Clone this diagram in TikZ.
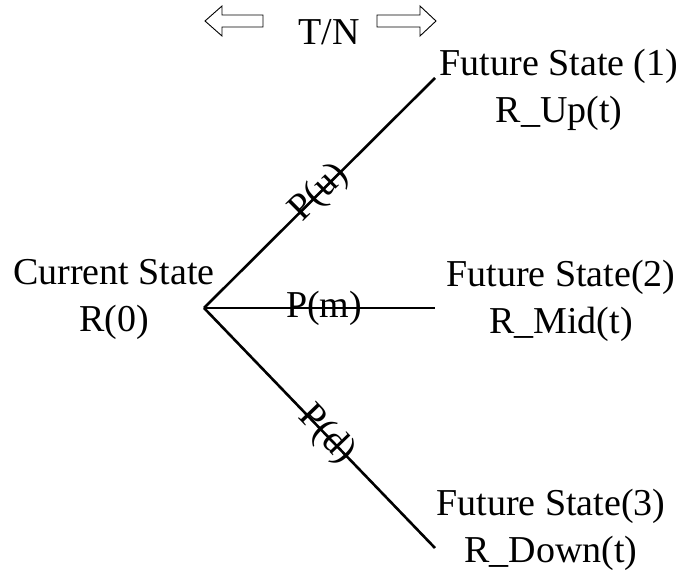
\documentclass[tikz,border=0pt]{standalone}
\usepackage{fontspec}
\setmainfont{Liberation Serif}
\usetikzlibrary{positioning}

\begin{document}
\begin{tikzpicture}[%
    x=1pt, y=-1pt,
    font=\fontsize{38}{47}\selectfont,
    state/.style={align=center, inner sep=0pt},
    branch/.style={line width=2.6pt},
    prob/.style={sloped, inner sep=0pt},
    hollow/.style={draw, line width=0.9pt, line join=miter}]
    \useasboundingbox (0,0) rectangle (681,575);

    \coordinate (root) at (204,308);
    \coordinate (up_end) at (435,78);
    \coordinate (mid_end) at (435,308);
    \coordinate (down_end) at (435,548);

    \node[state] (current) at (114,299.5) {Current State\\R(0)};
    \node[state] (future_1) at (559,89.5) {Future State (1)\\R\_Up(t)};
    \node[state] (future_2) at (561,301) {Future State(2)\\R\_Mid(t)};
    \node[state] (future_3) at (551,529.5) {Future State(3)\\R\_Down(t)};

    \node[anchor=base, inner sep=0pt] (tn) at (329,45) {T/N};

    % hollow arrows either side of T/N
    \draw[hollow] (205,21) -- (222,6) -- (222,15) -- (263,15)
        -- (263,27) -- (222,27) -- (222,36) -- cycle;
    \draw[hollow] (436,21) -- (420,6) -- (420,15) -- (377,15)
        -- (377,27) -- (420,27) -- (420,36) -- cycle;

    \path[branch]
              (root) edge node[prob] {P(u)} (up_end)
              (root) edge node[prob, pos=0.52] {P(m)} (mid_end)
              (root) edge node[prob, pos=0.53] {P(d)} (down_end);
  \end{tikzpicture}
\end{document}
